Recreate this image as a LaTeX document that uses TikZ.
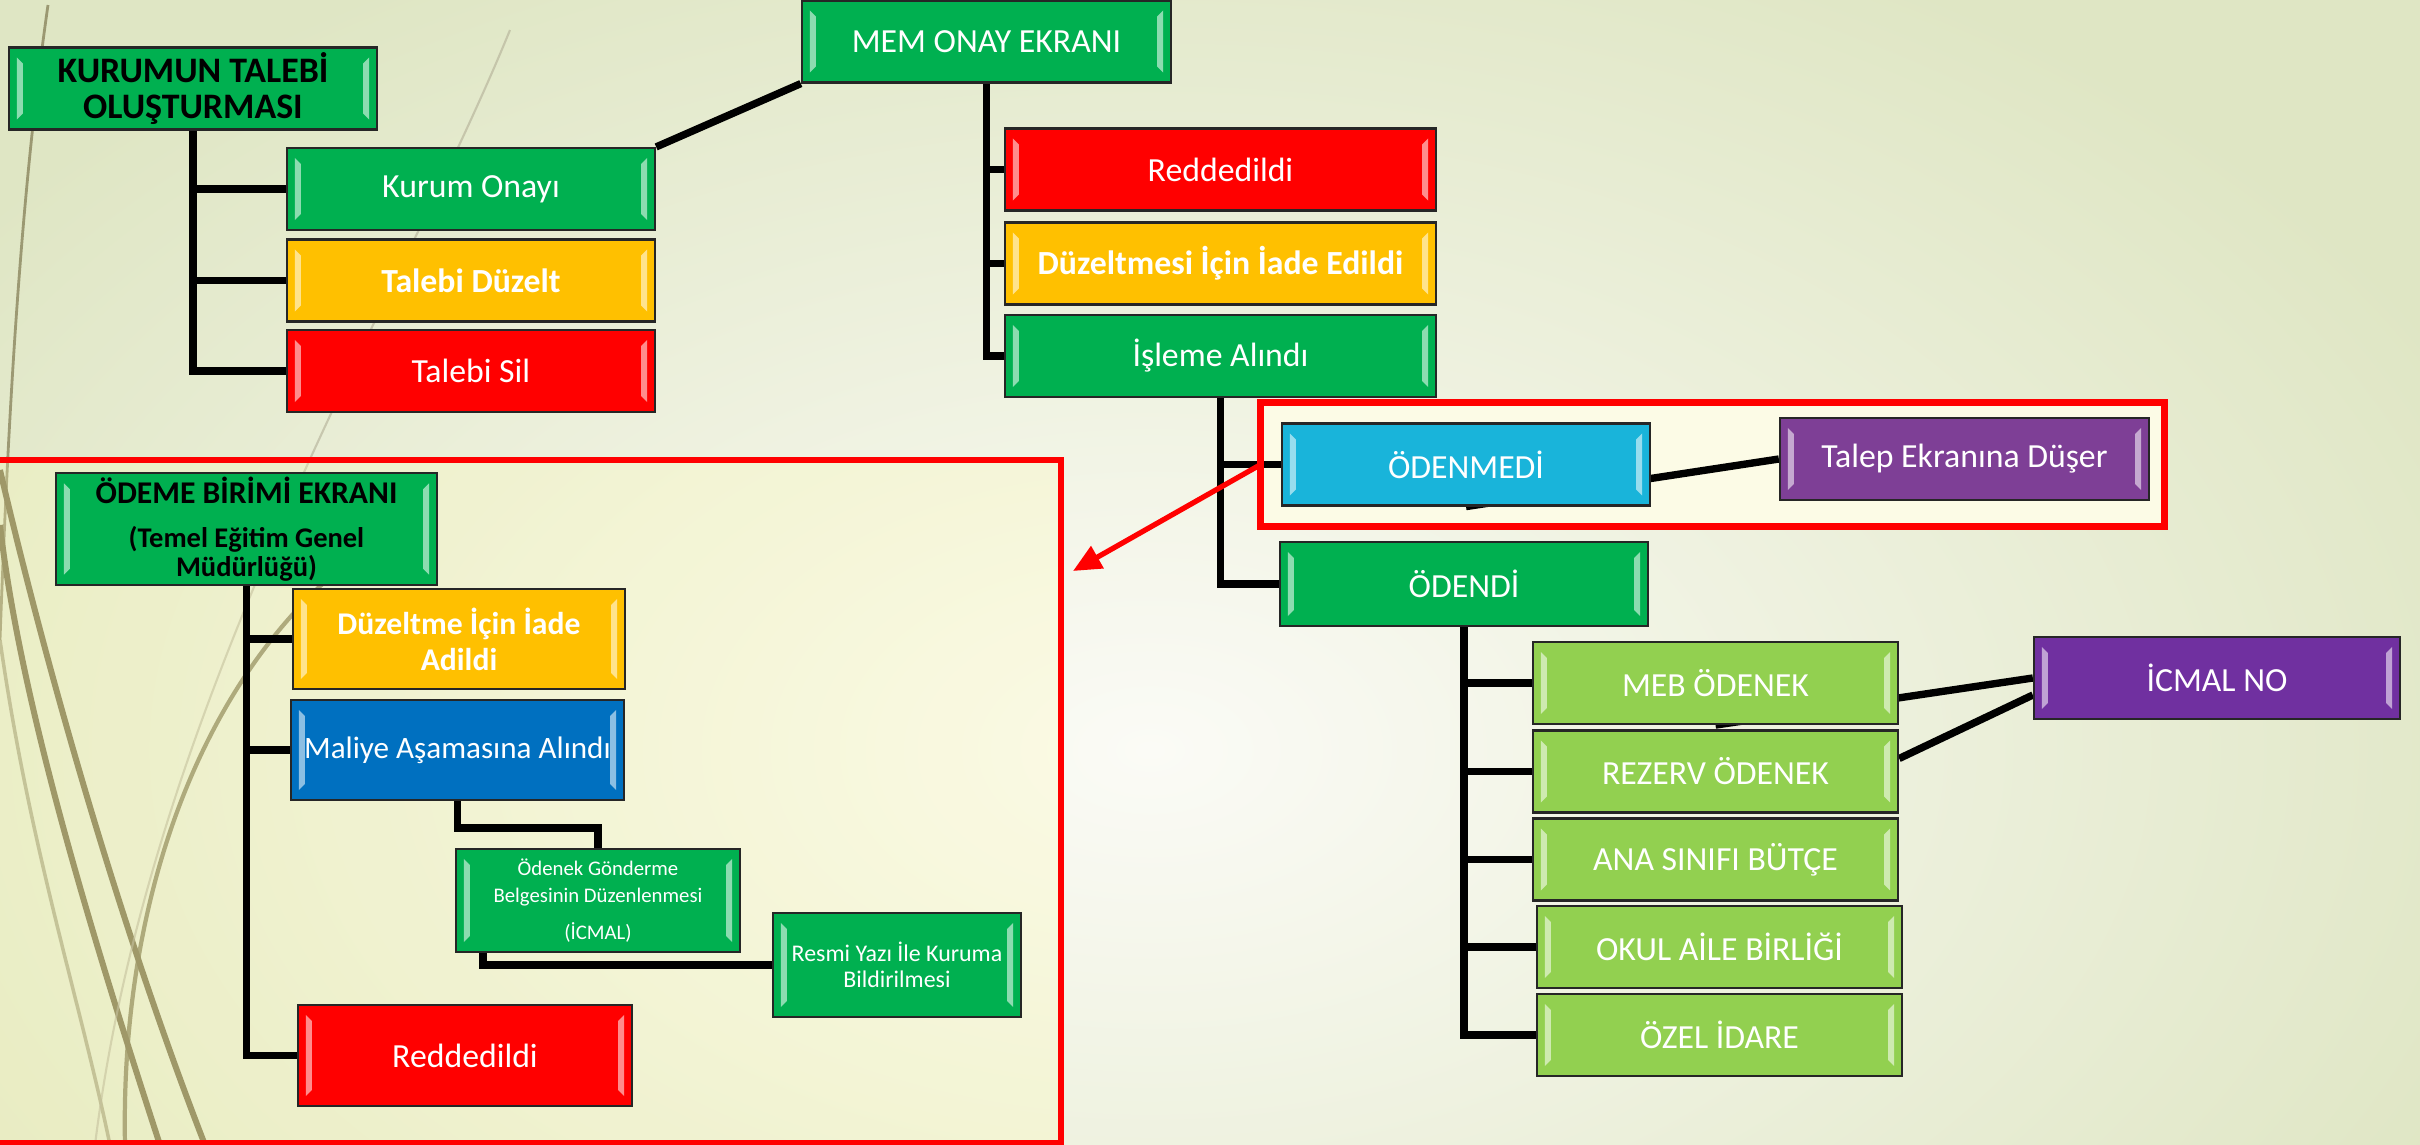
\documentclass[tikz,border=0pt]{standalone}
\usepackage{fontspec}
\setmainfont{Carlito}
\usetikzlibrary{calc,arrows.meta}

\definecolor{yesil}{HTML}{00B050}
\definecolor{sari}{HTML}{FFC000}
\definecolor{kirmizi}{HTML}{FF0000}
\definecolor{mavi}{HTML}{0070C0}
\definecolor{turkuaz}{HTML}{19B4DA}
\definecolor{mor}{HTML}{7E3F96}
\definecolor{koyumor}{HTML}{7030A0}
\definecolor{acikyesil}{HTML}{92D050}
\definecolor{zeytin}{HTML}{7F7850}
\definecolor{zemin}{HTML}{DFE6C4}
\definecolor{ortazemin}{HTML}{FBFBF6}
\definecolor{cercevezemin}{HTML}{FCFBE6}

\pgfdeclarelayer{arka}
\pgfdeclarelayer{hat}
\pgfsetlayers{arka,hat,main}

\tikzset{
  kutu/.style={draw=black!85, line width=0.6pt, fill=#1, text=white,
    minimum width=3.68cm, minimum height=0.82cm, inner sep=1pt, align=center,
    font=\fontsize{9.6}{10.5}\selectfont,
    path picture={
      \fill[#1!45!white] ($(path picture bounding box.north west)+(8,10)$) -- ++(6,6)
        -- ($(path picture bounding box.south west)+(14,-16)$) -- ++(-6,6) -- cycle;
      \fill[#1!45!white] ($(path picture bounding box.north east)+(-8,10)$) -- ++(-6,6)
        -- ($(path picture bounding box.south east)+(-14,-16)$) -- ++(6,6) -- cycle;
    }},
  koyu/.style={text=black, font=\bfseries\fontsize{10.2}{10.5}\selectfont},
  kalin/.style={font=\bfseries\fontsize{9.6}{10.5}\selectfont},
  baglanti/.style={line width=2.1pt, black},
  cerceve/.style={draw=kirmizi, line width=2pt},
}

\begin{document}
\begin{tikzpicture}[x=0.01cm, y=-0.01cm]
\useasboundingbox (0,0) rectangle (2420,1145);

% background
\begin{pgfonlayer}{arka}
\shade[inner color=ortazemin, outer color=zemin] (-300,-150) rectangle (2600,1650);
\draw[zeytin, line width=0.8pt, opacity=.7] (48,5) .. controls (20,200) and (8,420) .. (0,640);
\draw[zeytin, line width=1.7pt] (0,470) .. controls (40,640) and (110,900) .. (205,1145);
\draw[zeytin, line width=1.7pt] (0,525) .. controls (20,700) and (90,930) .. (160,1145);
\draw[zeytin, line width=1pt, opacity=.5] (0,640) .. controls (30,850) and (80,1000) .. (110,1145);
\draw[zeytin!60, line width=0.6pt, opacity=.6] (510,30) .. controls (400,300) and (150,700) .. (95,1145);
\draw[zeytin, line width=1.2pt, opacity=.8] (350,560) .. controls (200,680) and (120,900) .. (125,1145);
\node[fill=cercevezemin, inner sep=0, outer sep=0, minimum width=9.03cm, minimum height=1.23cm]
  (kucukcerceve) at (1712.5,464.5) {};
\node[fill=yellow!30, fill opacity=.25, inner sep=0, outer sep=0, minimum width=10.71cm, minimum height=6.83cm]
  (buyukcerceve) at (525.5,801.5) {};
\end{pgfonlayer}

% kurum
\node[kutu=yesil, koyu] (kurumtalep) at (193,88.5) {KURUMUN TALEBİ\\OLUŞTURMASI};
\node[kutu=yesil] (kurumonay) at (471,189) {Kurum Onayı};
\node[kutu=sari, kalin] (talebiduzelt) at (471,280.5) {Talebi Düzelt};
\node[kutu=kirmizi] (talebisil) at (471,371) {Talebi Sil};

% MEM
\node[kutu=yesil, minimum width=3.69cm] (memonay) at (986.5,41.5) {MEM ONAY EKRANI};
\node[kutu=kirmizi, minimum width=4.31cm] (memred) at (1220.5,169.5) {Reddedildi};
\node[kutu=sari, kalin, minimum width=4.31cm] (memiade) at (1220.5,263.5) {Düzeltmesi İçin İade Edildi};
\node[kutu=yesil, minimum width=4.31cm] (isleme) at (1220.5,356) {İşleme Alındı};
\node[kutu=turkuaz] (odenmedi) at (1466,464.5) {ÖDENMEDİ};
\node[kutu=mor, minimum width=3.69cm] (talepdus) at (1964.5,459) {Talep Ekranına Düşer};
\node[kutu=yesil, minimum height=0.84cm] (odendi) at (1464,584) {ÖDENDİ};
\node[kutu=acikyesil, minimum width=3.65cm] (meb) at (1715.5,683) {MEB ÖDENEK};
\node[kutu=acikyesil, minimum width=3.65cm] (rezerv) at (1715.5,771.5) {REZERV ÖDENEK};
\node[kutu=acikyesil, minimum width=3.65cm] (anasinifi) at (1715.5,859.5) {ANA SINIFI BÜTÇE};
\node[kutu=acikyesil, minimum width=3.65cm] (okul) at (1719.5,947) {OKUL AİLE BİRLİĞİ};
\node[kutu=acikyesil, minimum width=3.65cm] (ozel) at (1719.5,1035) {ÖZEL İDARE};
\node[kutu=koyumor, minimum width=3.66cm] (icmalno) at (2217,678) {İCMAL NO};

% odeme birimi
\node[kutu=yesil, text=black, font=\bfseries\fontsize{8.1}{8.3}\selectfont,
  minimum width=3.81cm, minimum height=1.04cm] (odeme) at (246.5,529)
  {{\fontsize{9}{8.3}\selectfont ÖDEME BİRİMİ EKRANI}\\[4.2pt](Temel Eğitim Genel\\Müdürlüğü)};
\node[kutu=sari, font=\bfseries\fontsize{9}{10.2}\selectfont,
  minimum width=3.32cm, minimum height=1.0cm] (odemeiade) at (459,639) {Düzeltme İçin İade\\Adildi};
\node[kutu=mavi, font=\fontsize{8.85}{10}\selectfont,
  minimum width=3.33cm, minimum height=1.0cm] (maliye) at (457.5,750) {Maliye Aşamasına Alındı};
\node[kutu=yesil, font=\fontsize{5.9}{7.7}\selectfont,
  minimum width=2.84cm, minimum height=1.03cm] (odenek) at (598,900.5)
  {Ödenek Gönderme\\Belgesinin Düzenlenmesi\\[2.8pt](İCMAL)};
\node[kutu=yesil, font=\fontsize{6.8}{7.4}\selectfont,
  minimum width=2.48cm, minimum height=1.04cm] (resmi) at (897,965) {Resmi Yazı İle Kuruma\\Bildirilmesi};
\node[kutu=kirmizi, minimum width=3.34cm, minimum height=1.01cm] (odemered) at (465,1055.5) {Reddedildi};

% connectors
\begin{pgfonlayer}{hat}
\foreach \c in {kurumonay,talebiduzelt,talebisil}
  \draw[baglanti] (kurumtalep.south) |- (\c.west);
\draw[baglanti] (kurumonay.north east) -- (memonay.south west);
\foreach \c in {memred,memiade,isleme}
  \draw[baglanti] (memonay.south) |- (\c.west);
\foreach \c in {odenmedi,odendi}
  \draw[baglanti] (isleme.south) |- (\c.west);
\foreach \c in {meb,rezerv,anasinifi,okul,ozel}
  \draw[baglanti] (odendi.south) |- (\c.west);
\draw[baglanti] (odenmedi.south) -- (talepdus.west);
\draw[baglanti] (meb.south) -- (icmalno.west);
\draw[baglanti] ($(rezerv.east)+(0,-13)$) -- ($(icmalno.west)+(0,17)$);
\foreach \c in {odemeiade,maliye,odemered}
  \draw[baglanti] (odeme.south) |- (\c.west);
\draw[baglanti] (maliye.south) -- ++(0,27) -| (odenek.north);
\draw[baglanti] ($(odenek.south west)+(28,0)$) |- (resmi.west);
\end{pgfonlayer}

% red frames
\draw[cerceve] (kucukcerceve.north west) rectangle (kucukcerceve.south east);
\draw[cerceve, line width=1.7pt] (buyukcerceve.north west) rectangle (buyukcerceve.south east);
\coordinate (okucu) at (1073,571);
\draw[kirmizi, line width=1.5pt, -{Triangle[length=8pt,width=7pt]}] (kucukcerceve.west) -- (okucu);
\end{tikzpicture}
\end{document}
